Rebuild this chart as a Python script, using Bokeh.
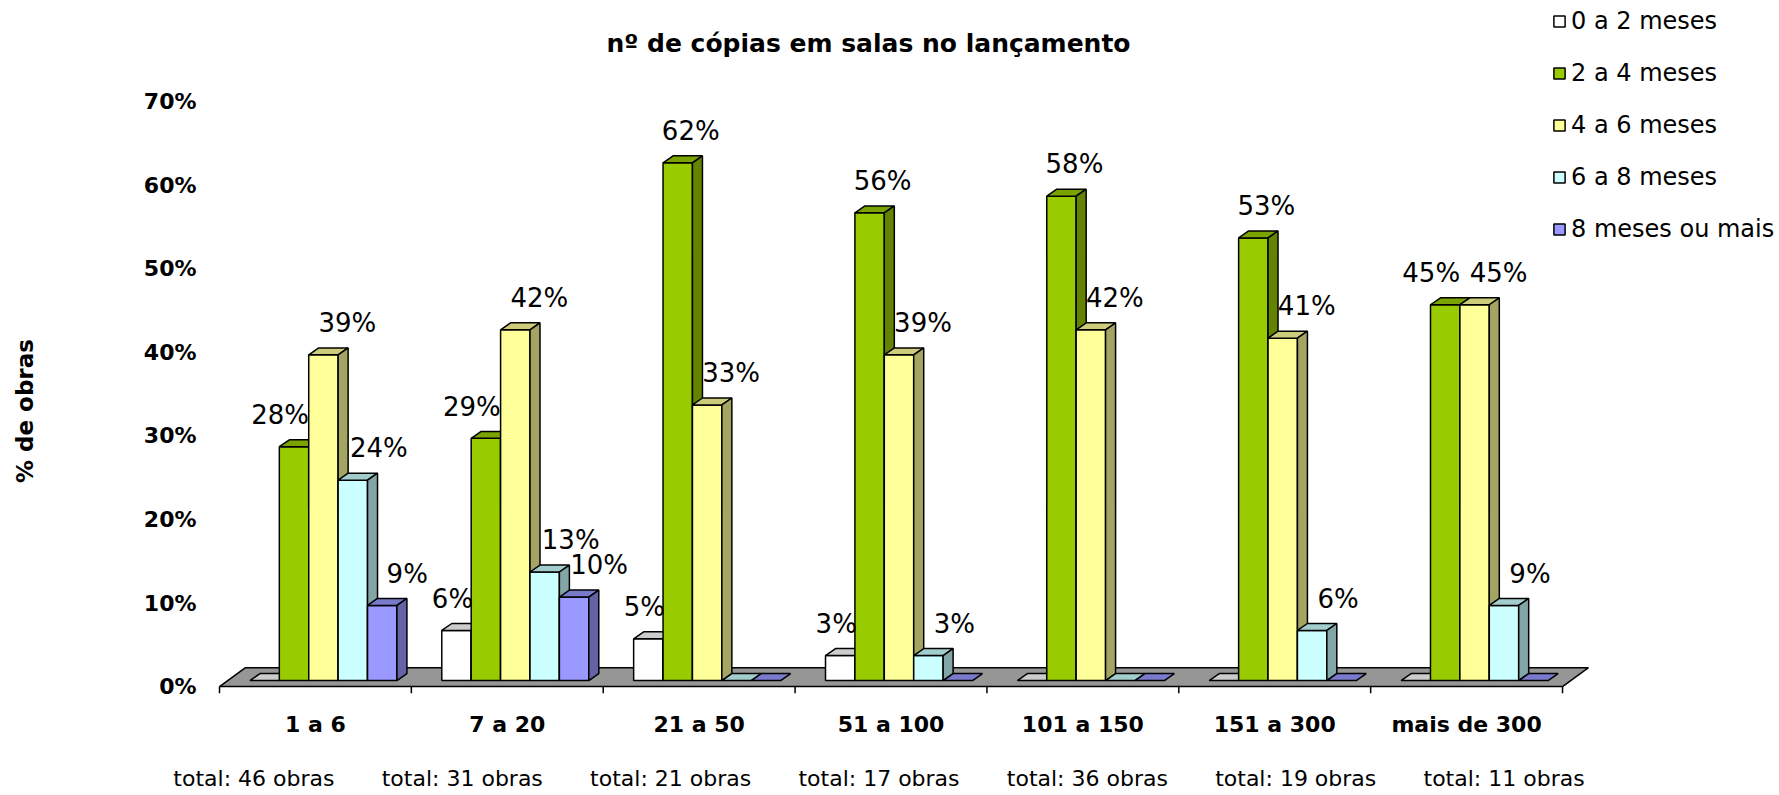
from bokeh.plotting import figure
from bokeh.models import (Range1d, FixedTicker, ColumnDataSource, Legend, LegendItem, Label,
                          LinearAxis)
from bokeh.embed import file_html
from bokeh.resources import INLINE
from bokeh.core.properties import value

# ---------------- data ----------------
categories = ["1 a 6", "7 a 20", "21 a 50", "51 a 100", "101 a 150", "151 a 300", "mais de 300"]
totals = [46, 31, 21, 17, 36, 19, 11]
series_names = ["0 a 2 meses", "2 a 4 meses", "4 a 6 meses", "6 a 8 meses", "8 meses ou mais"]
s_0a2 = [0, 6, 5, 3, 0, 0, 0]
s_2a4 = [28, 29, 62, 56, 58, 53, 45]
s_4a6 = [39, 42, 33, 39, 42, 41, 45]
s_6a8 = [24, 13, 0, 3, 0, 6, 9]
s_8mais = [9, 10, 0, 0, 0, 0, 0]
y_ticks = [0, 10, 20, 30, 40, 50, 60, 70]
title_text = "nº de cópias em salas no lançamento"
y_title = "% de obras"

series = [s_0a2, s_2a4, s_4a6, s_6a8, s_8mais]
colors = ["#FFFFFF", "#99CC00", "#FFFF99", "#CCFFFF", "#9999FF"]
# label nudges (px) per series: when free / when the next bar is as tall or taller
lab_dx_free = [12, 13, 24, 26, 25]
lab_dx_blocked = [-4, -14, -10, -10, -10]

FONT = "DejaVu Sans"

def shade(hx, f):
    hx = hx.lstrip("#")
    r, g, b = (int(hx[i:i + 2], 16) for i in (0, 2, 4))
    return "#%02x%02x%02x" % (int(r * f), int(g * f), int(b * f))

# ---------------- geometry ----------------
W, H = 1775, 793
PX_X = 191.86          # px per category
PX_Y = 8.4             # px per percent
FRAME_LEFT = 217
FRAME_BOTTOM = 697
XZ = 219               # px of category boundary 0 (front plane)
YZ = 690               # px of 0 % (front plane)

x_start = (FRAME_LEFT - XZ) / PX_X
x_end = (W - XZ) / PX_X
y_start = -(FRAME_BOTTOM - YZ) / PX_Y
y_end = YZ / PX_Y

OX = 8 / PX_X       # bar plane shift
OY = 6 / PX_Y
BW = 29.4 / PX_X    # bar width
G = (1 - 5 * BW) / 2
DX = 10 / PX_X      # bar depth
DY = 7 / PX_Y
FDX = 26 / PX_X     # floor depth
FDY = 19 / PX_Y
n = len(categories)

p = figure(width=W, height=H, x_range=Range1d(x_start, x_end), y_range=Range1d(y_start, y_end),
           output_backend="svg", toolbar_location=None, x_axis_location=None,
           min_border_left=FRAME_LEFT, min_border_right=0, min_border_top=0,
           min_border_bottom=H - FRAME_BOTTOM)
p.outline_line_color = None
p.grid.visible = False

# y axis
ya = p.yaxis[0]
ya.ticker = FixedTicker(ticks=y_ticks)
ya.major_label_overrides = {t: f"{t}%" for t in y_ticks}
ya.major_label_text_font = FONT
ya.major_label_text_font_style = "bold"
ya.major_label_text_font_size = "22px"
ya.major_label_text_color = "black"
ya.major_tick_out = 0
ya.major_tick_in = 0
ya.minor_tick_out = 0
ya.minor_tick_in = 0
ya.axis_line_color = None
ya.major_label_standoff = 21
# trailing no-break spaces move the centred title down to where the reference has it
ya.axis_label = y_title + "\u00a0" * 16
ya.axis_label_text_font = FONT
ya.axis_label_text_font_style = "bold"
ya.axis_label_text_font_size = "23px"
ya.axis_label_text_color = "black"
ya.axis_label_standoff = 103

# x axes: categories, then totals
cat_pos = [i + 0.5 for i in range(n)]
xa = LinearAxis(ticker=FixedTicker(ticks=cat_pos),
                major_label_overrides={c: t for c, t in zip(cat_pos, categories)})
tot_pos = [i + 0.5 + (-12 + 16.5 * (i - 3)) / PX_X for i in range(n)]
xb = LinearAxis(ticker=FixedTicker(ticks=tot_pos),
                major_label_overrides={c: f"total: {t} obras" for c, t in zip(tot_pos, totals)})
for ax, bold, stand in ((xa, "bold", 18), (xb, "normal", 26)):
    ax.axis_line_color = None
    ax.major_tick_out = 0
    ax.major_tick_in = 0
    ax.minor_tick_out = 0
    ax.minor_tick_in = 0
    ax.major_label_standoff = stand
    ax.major_label_text_font = FONT
    ax.major_label_text_font_style = bold
    ax.major_label_text_font_size = "22px"
    ax.major_label_text_color = "black"
    p.add_layout(ax, "below")

# floor
p.patch([0, n, n + FDX, FDX], [0, 0, FDY, FDY], fill_color="#969696",
        line_color="black", line_width=1.5)
# category boundary ticks
p.segment(x0=list(range(n + 1)), y0=[0] * (n + 1), x1=list(range(n + 1)), y1=[-7 / PX_Y] * (n + 1),
          line_color="black", line_width=1.5)

legend_items = []
lab_x, lab_y, lab_t = [], [], []
for si, vals in enumerate(series):
    c = colors[si]
    lefts = [i + OX + G + si * BW for i in range(n)]
    pos = [k for k in range(n) if vals[k] > 0]
    fr = ColumnDataSource(dict(left=[lefts[k] for k in pos], right=[lefts[k] + BW for k in pos],
                               bottom=[OY] * len(pos), top=[OY + vals[k] for k in pos]))
    front = p.quad(left="left", right="right", bottom="bottom", top="top", source=fr,
                   fill_color=c, line_color="black", line_width=1.5)
    legend_items.append(LegendItem(label=series_names[si], renderers=[front]))
    txs = [[l, l + BW, l + BW + DX, l + DX] for l in lefts]
    tys = [[OY + v, OY + v, OY + v + DY, OY + v + DY] for v in vals]
    p.patches(txs, tys, fill_color=shade(c, 0.8), line_color="black", line_width=1.5)
    sxs = [[lefts[k] + BW, lefts[k] + BW + DX, lefts[k] + BW + DX, lefts[k] + BW] for k in pos]
    sys_ = [[OY, OY + DY, OY + vals[k] + DY, OY + vals[k]] for k in pos]
    if pos:
        p.patches(sxs, sys_, fill_color=shade(c, 0.65), line_color="black", line_width=1.5)
    for k in pos:
        v = vals[k]
        nxt = series[si + 1][k] if si + 1 < len(series) else 0
        dx = lab_dx_blocked[si] if nxt >= v else lab_dx_free[si]
        lab_x.append(lefts[k] + BW / 2 + dx / PX_X)
        lab_y.append(OY + v + 32 / PX_Y)
        lab_t.append(f"{v}%")

p.text(lab_x, lab_y, text=lab_t, text_font=value(FONT), text_font_size="26px",
       text_align="center", text_baseline="middle", text_color="black")

# title
p.add_layout(Label(x=(868 - XZ) / PX_X, y=(YZ - 43) / PX_Y, text=title_text,
                   text_font=FONT, text_font_style="bold", text_font_size="25px",
                   text_align="center", text_baseline="middle", text_color="black"))

# legend: bottom-left corner given in px from the frame's bottom-left
legend = Legend(items=legend_items, location=(1335, 450), border_line_color=None,
                background_fill_alpha=0, padding=0, margin=0, spacing=24,
                glyph_width=14, glyph_height=14, label_height=28, label_standoff=5,
                label_text_font=FONT, label_text_font_size="24px", label_text_color="black")
p.add_layout(legend)

open("out.html", "w").write(file_html(p, INLINE))
